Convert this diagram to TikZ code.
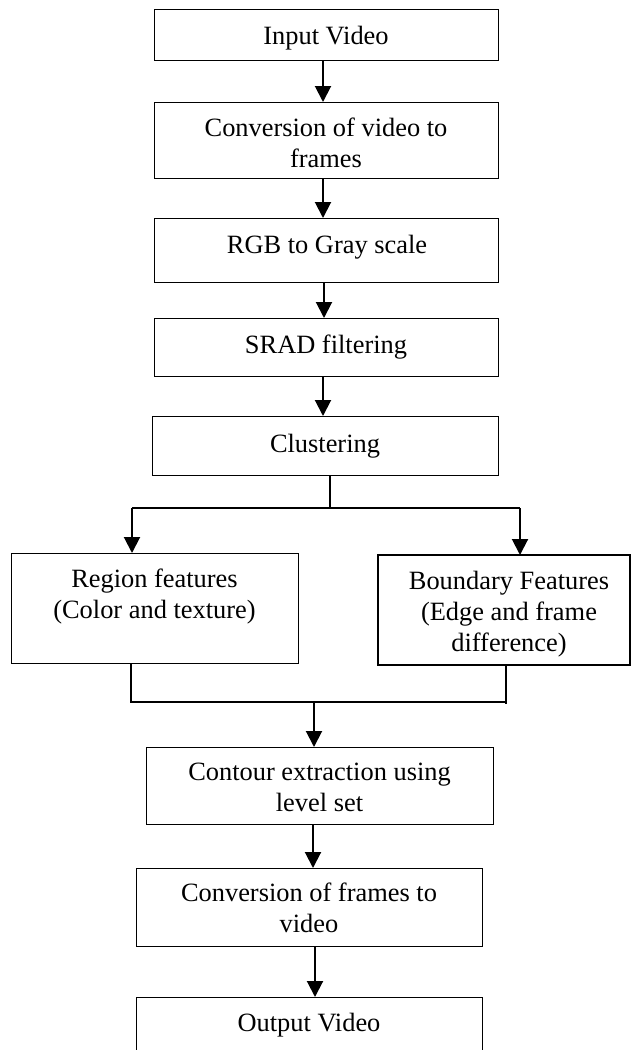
\documentclass[tikz,border=0pt]{standalone}
\usepackage{fontspec}
\setmainfont{Liberation Serif}
\usetikzlibrary{arrows.meta,calc}
\begin{document}
\begin{tikzpicture}[x=1pt,y=-1pt,
  box/.style={draw, line width=1pt, inner sep=0pt, outer sep=0pt},
  txt/.style={font=\fontsize{26.4}{31}\selectfont, align=center, inner sep=0pt},
  arr/.style={line width=2pt, -{Triangle[width=16pt,length=16pt]}},
  wire/.style={line width=1.2pt}]
\useasboundingbox (0,0) rectangle (633,1050);
% boxes
\node[box, minimum width=344pt, minimum height=51pt] (in) at (326,34.5) {};
\node[box, minimum width=344pt, minimum height=76pt] (conva) at (326,140) {};
\node[box, minimum width=344pt, minimum height=64pt] (rgb) at (326,250) {};
\node[box, minimum width=344pt, minimum height=58pt] (srad) at (326,347) {};
\node[box, minimum width=346pt, minimum height=59pt] (clus) at (325,445.5) {};
\node[box, minimum width=287pt, minimum height=110pt] (region) at (154.5,608) {};
\node[box, line width=2pt, minimum width=252pt, minimum height=110pt] (bound) at (504,610) {};
\node[box, minimum width=347pt, minimum height=77pt] (contour) at (319.5,785.5) {};
\node[box, minimum width=346pt, minimum height=78pt] (convb) at (309,907) {};
\node[box, minimum width=346pt, minimum height=70pt] (out) at (309,1032) {};
% texts
\node[txt] (intx) at (326,38) {Input Video};
\node[txt] (convatx) at (326,143) {Conversion of video to\\frames};
\node[txt] (rgbtx) at (327,247) {RGB to Gray scale};
\node[txt] (sradtx) at (326,347) {SRAD filtering};
\node[txt] (clustx) at (325,446) {Clustering};
\node[txt] (regiontx) at (154.5,597) {Region features\\(Color and texture)};
\node[txt] (boundtx) at (509,614) {Boundary Features\\(Edge and frame\\difference)};
\node[txt] (contourtx) at (319.5,787) {Contour extraction using\\level set};
\node[txt] (convbtx) at (309,908) {Conversion of frames to\\video};
\node[txt] (outtx) at (309,1025.5) {Output Video};
% arrows along the main chain
\draw[arr] ([xshift=-3pt]in.south) -- ([xshift=-3pt]in.south |- conva.north);
\draw[arr] ([xshift=-3pt]conva.south) -- ([xshift=-3pt]conva.south |- rgb.north);
\draw[arr] ([xshift=-2pt]rgb.south) -- ([xshift=-2pt]rgb.south |- srad.north);
\draw[arr] ([xshift=-3pt]srad.south) -- ([xshift=-3pt]srad.south |- clus.north);
% split
\coordinate (js) at (330,508);
\coordinate (jl) at (132,508);
\coordinate (jr) at (520,508);
\draw[wire] (js |- clus.south) -- (js);
\draw[wire] (jl) -- (jr);
\draw[arr] (jl) -- (jl |- region.north);
\draw[arr] (jr) -- (jr |- bound.north);
% merge
\coordinate (kl) at (131,702);
\coordinate (kr) at (506,702);
\coordinate (km) at (314,702);
\draw[wire] (kl |- region.south) -- (kl) -- (kr);
\draw[wire] (kr |- bound.south) -- (506,703.5);
\draw[arr] (km) -- (km |- contour.north);
\draw[arr] ([xshift=-6.5pt]contour.south) -- ([xshift=-6.5pt]contour.south |- convb.north);
\draw[arr] ([xshift=6pt]convb.south) -- ([xshift=6pt]convb.south |- out.north);
\end{tikzpicture}
\end{document}
